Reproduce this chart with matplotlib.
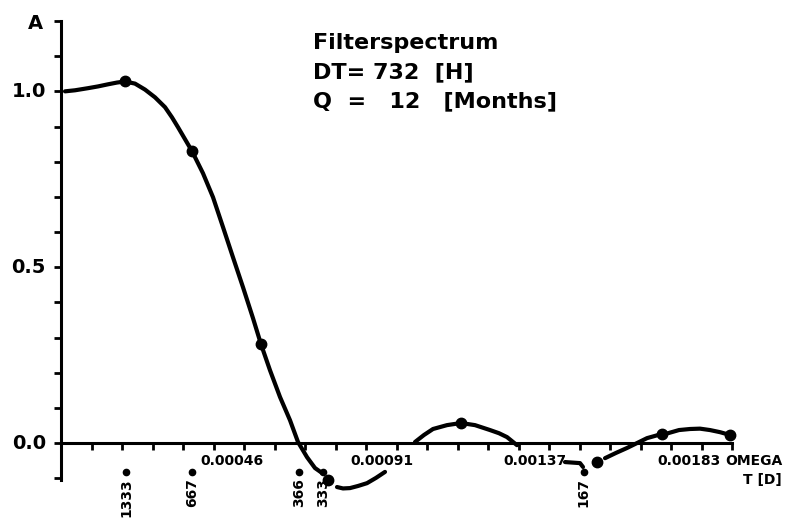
import matplotlib
matplotlib.use("Agg")
import matplotlib.pyplot as plt
import numpy as np

# Curve of the filter spectrum (omega in rad/h, amplitude A).
# The hand drawn curve has gaps, so it is kept as separate pieces.
seg1_omega = [0.000012, 0.000042, 0.000081, 0.000111, 0.000141, 0.000168, 0.000192,
              0.000222, 0.000252, 0.000282, 0.000312, 0.000333, 0.000351, 0.000393,
              0.000426, 0.000456, 0.000486, 0.000516, 0.000546, 0.000576, 0.000600,
              0.000627, 0.000657, 0.000687, 0.000711, 0.000738, 0.000762, 0.000783]
seg1_amp = [1.000, 1.003, 1.009, 1.014, 1.020, 1.025, 1.028,
            1.022, 1.005, 0.983, 0.955, 0.926, 0.898, 0.830,
            0.767, 0.699, 0.614, 0.528, 0.443, 0.355, 0.281,
            0.207, 0.131, 0.065, 0.003, -0.040, -0.071, -0.085]
seg2_omega = [0.000828, 0.000846, 0.000867, 0.000891, 0.000918, 0.000945, 0.000972]
seg2_amp = [-0.125, -0.129, -0.128, -0.122, -0.114, -0.099, -0.082]
seg3_omega = [0.001062, 0.001089, 0.001116, 0.001158, 0.001200, 0.001242, 0.001287,
              0.001314, 0.001338, 0.001368]
seg3_amp = [0.003, 0.023, 0.040, 0.051, 0.057, 0.051, 0.037,
            0.028, 0.017, -0.006]
seg4_omega = [0.001512, 0.001557, 0.001566]
seg4_amp = [-0.054, -0.057, -0.068]
seg5_omega = [0.001632, 0.001665, 0.001698, 0.001728, 0.001758, 0.001803]
seg5_amp = [-0.043, -0.028, -0.014, 0.000, 0.014, 0.026]
seg6_omega = [0.001821, 0.001854, 0.001887, 0.001917, 0.001947, 0.001977, 0.002007]
seg6_amp = [0.028, 0.037, 0.040, 0.041, 0.037, 0.031, 0.023]

# computed points (dots on the curve)
dot_omega = [0.000192, 0.000393, 0.000600, 0.000801, 0.001200, 0.001608, 0.001803, 0.002007]
dot_amp = [1.028, 0.830, 0.281, -0.105, 0.057, -0.054, 0.026, 0.023]

# period markers in days, shown under the axis
periods = [1333, 667, 366, 333, 167]
# axis labels
omega_labels = ["0.00046", "0.00091", "0.00137", "0.00183"]
omega_label_vals = [0.00046, 0.00091, 0.00137, 0.00183]
amp_labels = ["1.0", "0.5", "0.0"]
amp_label_vals = [1.0, 0.5, 0.0]

W, H = 786, 518
fig = plt.figure(figsize=(W / 100, H / 100), dpi=100)
fig.patch.set_facecolor("white")
ax = fig.add_axes([61 / W, (H - 480) / H, 671 / W, 459 / H])
ax.set_xlim(0, 0.002013)
ax.set_ylim(-0.105, 1.2)

lw_axis = 2.2

# axes: left spine full height, x axis through A = 0
for s in ["top", "right"]:
    ax.spines[s].set_visible(False)
ax.spines["left"].set_linewidth(lw_axis)
ax.spines["bottom"].set_linewidth(lw_axis)
ax.spines["bottom"].set_position(("data", 0))
ax.spines["bottom"].set_bounds(0, 0.002013)

step = omega_label_vals[-1] / 20
ax.set_xticks(np.arange(1, 23) * step)
ax.set_xticklabels([])
ax.tick_params(axis="x", direction="out", length=5, width=2, color="black")
ax.set_yticks(np.round(np.arange(-0.1, 1.21, 0.1), 2))
ax.set_yticks(amp_label_vals, minor=True)
ax.set_yticklabels([])
ax.tick_params(axis="y", which="major", direction="out", length=5, width=2)
ax.tick_params(axis="y", which="minor", direction="out", length=9, width=2)

# curve pieces
for xs, ys in [(seg1_omega, seg1_amp), (seg2_omega, seg2_amp), (seg3_omega, seg3_amp),
               (seg4_omega, seg4_amp), (seg5_omega, seg5_amp), (seg6_omega, seg6_amp)]:
    ax.plot(xs, ys, color="black", lw=3.0, solid_capstyle="round",
            solid_joinstyle="round", clip_on=False)
ax.plot(dot_omega, dot_amp, "o", color="black", ms=7.5, clip_on=False)

# period markers: omega = 2 pi / (T * 24 h)
for p in periods:
    w = 2 * np.pi / (p * 24)
    ax.plot(w, -0.082, "o", color="black", ms=4.5, clip_on=False)
    ax.text(w, -0.1, str(p), rotation=90, ha="center", va="top", fontsize=10,
            fontweight="bold", clip_on=False)

# omega tick labels, decimal point under the tick
for lab, v in zip(omega_labels, omega_label_vals):
    ax.text(v - 0.000042, -0.03, lab, ha="left", va="top", fontsize=10,
            fontweight="bold")
ax.text(0.002163, -0.03, "OMEGA", ha="right", va="top", fontsize=10,
        fontweight="bold", clip_on=False)
ax.text(0.002163, -0.086, "T [D]", ha="right", va="top", fontsize=10,
        fontweight="bold", clip_on=False)

# amplitude labels
for lab, v in zip(amp_labels, amp_label_vals):
    ax.text(-0.000045, v, lab, ha="right", va="center", fontsize=14,
            fontweight="bold", clip_on=False)
fig.text(28 / W, 1 - 14 / H, "A", ha="left", va="top", fontsize=14,
         fontweight="bold")

# title block
title_lines = ["Filterspectrum", "DT= 732  [H]", "Q  =   12   [Months]"]
for i, t in enumerate(title_lines):
    fig.text(313 / W, 1 - (33 + i * 29) / H, t, ha="left", va="top", fontsize=16,
             fontweight="bold")

fig.savefig("out.png", dpi=100, facecolor="white")
